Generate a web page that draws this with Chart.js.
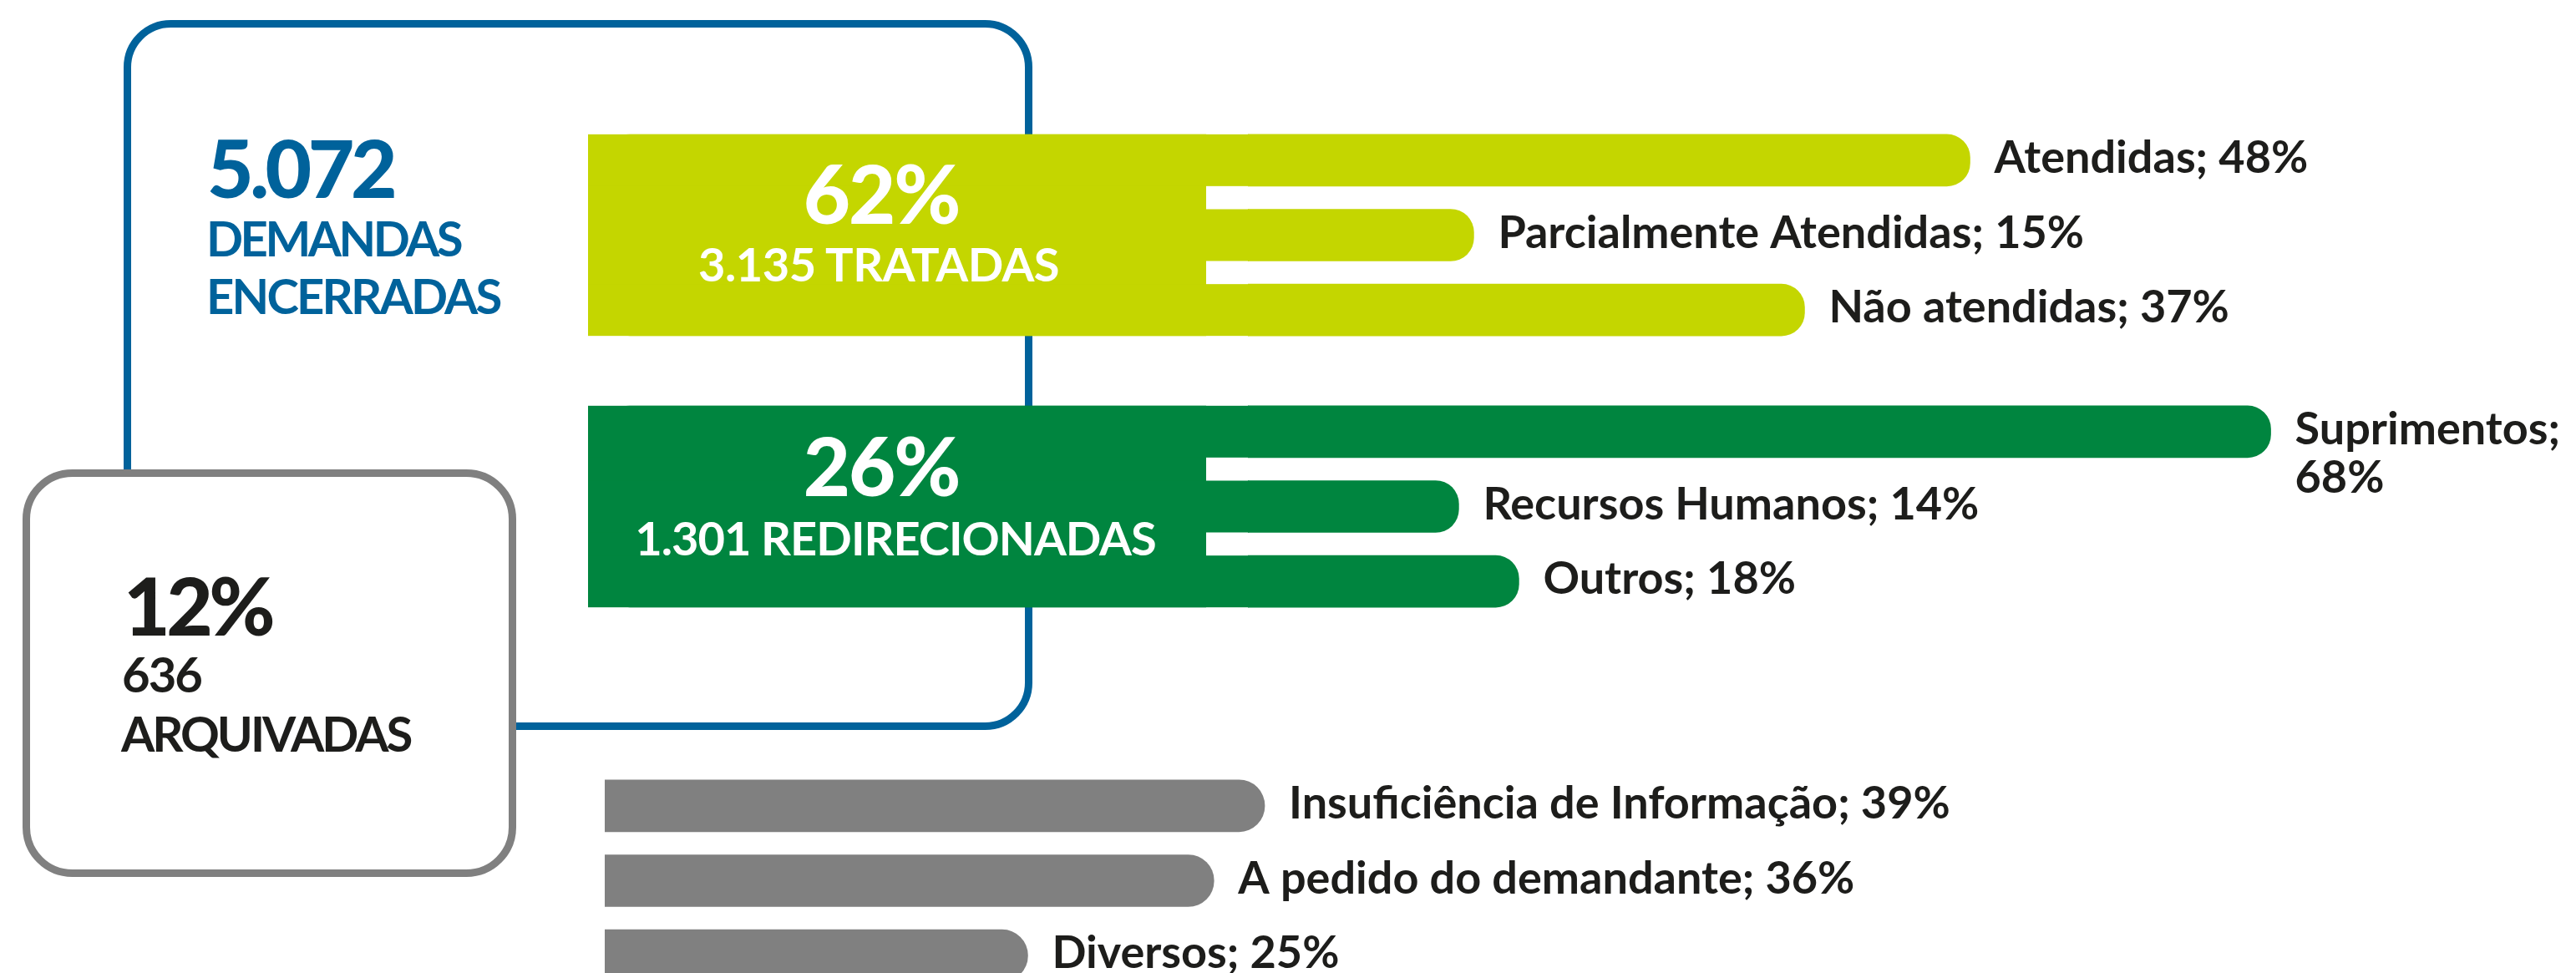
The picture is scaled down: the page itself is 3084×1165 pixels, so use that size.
<!DOCTYPE html>
<html lang="pt-BR">
<head>
<meta charset="utf-8">
<title>Demandas encerradas</title>
<script src="https://cdn.jsdelivr.net/npm/chart.js@4.4.1/dist/chart.umd.min.js"></script>
<style>
  html, body { margin: 0; padding: 0; background: #fff; }
  #page { position: relative; width: 3084px; height: 1165px; overflow: hidden; background: #fff; }
  .layer { position: absolute; left: 0; top: 0; }
  canvas { position: absolute; }
  #c-tratadas { left: 704px; top: 147px; }
  #c-redir { left: 704px; top: 472px; }
  #c-arq { left: 724px; top: 920px; }
  svg text { font-family: Lato, 'Open Sans', sans-serif; font-weight: 700; }
</style>
</head>
<body>
<div id="page">
  <svg class="layer" width="3084" height="1165">
    <rect x="152.5" y="28.5" width="1079" height="841" rx="52" fill="none" stroke="#00629b" stroke-width="9"/>
  </svg>
  <canvas id="c-tratadas" width="2380" height="269"></canvas>
  <canvas id="c-redir" width="2380" height="269"></canvas>
  <canvas id="c-arq" width="2360" height="269"></canvas>
  <svg class="layer" id="front" width="3084" height="1165">
    <rect x="31.5" y="566.5" width="582" height="479" rx="55" fill="#fff" stroke="#808080" stroke-width="9"/>
  </svg>
</div>
<script>
// ── Data ───────────────────────────────────────────────────
const totalClosed = 5072;
const groupNames  = ['TRATADAS', 'REDIRECIONADAS', 'ARQUIVADAS'];
const groupCounts = [3135, 1301, 636];
const groupShares = [62, 26, 12];

const tratadasLabels = ['Atendidas', 'Parcialmente Atendidas', 'Não atendidas'];
const tratadasValues = [48, 15, 37];

const redirLabels = ['Suprimentos', 'Recursos Humanos', 'Outros'];
const redirValues = [68, 14, 18];

const arqLabels = ['Insuficiência de Informação', 'A pedido do demandante', 'Diversos'];
const arqValues = [39, 36, 25];

const BLUE = '#00629b', LIME = '#c4d600', GREEN = '#00853f', GREY = '#808080', INK = '#1d1d1b';

// ── Helpers ────────────────────────────────────────────────
function fmt(n) {
  return String(n).replace(/\B(?=(\d{3})+(?!\d))/g, '.');
}

function addText(str, x, y, size, color, anchor, weight, spacing) {
  const t = document.createElementNS('http://www.w3.org/2000/svg', 'text');
  t.setAttribute('x', x);
  t.setAttribute('y', y);
  t.setAttribute('font-size', size);
  t.setAttribute('fill', color);
  t.setAttribute('text-anchor', anchor || 'start');
  if (weight) t.style.fontWeight = weight;
  if (spacing) t.style.letterSpacing = spacing + 'px';
  t.textContent = str;
  document.getElementById('front').appendChild(t);
}

// E-shaped block behind the bars of one group
const blockPlugin = {
  id: 'block',
  beforeDatasetsDraw(chart, args, opts) {
    if (!opts.width) return;
    const bars = chart.getDatasetMeta(0).data;
    const h = bars[0].height;
    const left = chart.chartArea.left;
    const top = bars[0].y - h / 2;
    const bottom = bars[bars.length - 1].y + h / 2;
    const ctx = chart.ctx;
    ctx.save();
    ctx.fillStyle = opts.color;
    ctx.beginPath();
    ctx.roundRect(left, top, opts.width, bottom - top, [opts.radius, 0, 0, opts.radius]);
    ctx.fill();
    bars.forEach(b => ctx.fillRect(left, b.y - h / 2, b.base - left + 1, h));
    ctx.restore();
  }
};

// "Label; NN%" after each bar, wrapped when it runs off the canvas
const labelPlugin = {
  id: 'barLabels',
  afterDatasetsDraw(chart, args, opts) {
    const ctx = chart.ctx;
    const bars = chart.getDatasetMeta(0).data;
    ctx.save();
    ctx.font = `700 ${opts.size}px Lato, 'Open Sans', sans-serif`;
    ctx.fillStyle = INK;
    ctx.textBaseline = 'alphabetic';
    bars.forEach((bar, i) => {
      const head = chart.data.labels[i] + ';';
      const tail = chart.data.datasets[0].data[i] + '%';
      const x = bar.x + opts.gap;
      const y = bar.y + opts.shift;
      const full = head + ' ' + tail;
      if (x + ctx.measureText(full).width > chart.width - 4) {
        ctx.fillText(head, x, y);
        ctx.fillText(tail, x, y + opts.lineHeight);
      } else {
        ctx.fillText(full, x, y);
      }
    });
    ctx.restore();
  }
};

function makeBarChart(id, labels, values, color, xMin, xMax, radius, block) {
  return new Chart(document.getElementById(id), {
    type: 'bar',
    data: {
      labels,
      datasets: [{ data: values, backgroundColor: color, borderRadius: radius, borderSkipped: 'start', barThickness: 62 }]
    },
    options: {
      indexAxis: 'y',
      responsive: false,
      animation: false,
      layout: { padding: 0 },
      plugins: {
        legend: { display: false },
        tooltip: { enabled: false },
        block: block,
        barLabels: { size: 54, gap: 29, shift: 15, lineHeight: 58 }
      },
      scales: {
        x: { display: false, min: xMin, max: xMax },
        y: { display: false }
      }
    },
    plugins: [blockPlugin, labelPlugin]
  });
}

function draw() {
  // 0% sits 790px into the coloured blocks, 18px per point
  makeBarChart('c-tratadas', tratadasLabels, tratadasValues, LIME, -43.9, 88.3, 28,
    { width: 740, radius: 50, color: LIME });
  makeBarChart('c-redir', redirLabels, redirValues, GREEN, -43.9, 88.3, 28,
    { width: 740, radius: 50, color: GREEN });
  makeBarChart('c-arq', arqLabels, arqValues, GREY, 0, 116.5, 31, { width: 0 });

  // headline texts
  addText(fmt(totalClosed), 248, 237, 96, BLUE, 'start', 900, -4.5);
  addText('DEMANDAS', 247, 307, 58, BLUE, 'start', 700, -3.5);
  addText('ENCERRADAS', 247, 376, 58, BLUE, 'start', 700, -2.8);

  addText(groupShares[0] + '%', 1055, 268, 97, '#fff', 'middle', 900, -2);
  addText(fmt(groupCounts[0]) + ' ' + groupNames[0], 1052, 337, 56, '#fff', 'middle', 700, -0.5);
  addText(groupShares[1] + '%', 1055, 594, 97, '#fff', 'middle', 900, -2);
  addText(fmt(groupCounts[1]) + ' ' + groupNames[1], 1072, 665, 56, '#fff', 'middle', 700, -1);

  addText(groupShares[2] + '%', 148, 761, 96, INK, 'start', 900, -4.5);
  addText(fmt(groupCounts[2]), 146, 829, 58, INK, 'start', 700, -2);
  addText(groupNames[2], 145, 900, 58, INK, 'start', 700, -3);
}

Promise.all([
  document.fonts.load("700 54px Lato"),
  document.fonts.load("900 96px Lato")
]).catch(() => {}).then(draw);
</script>
</body>
</html>
